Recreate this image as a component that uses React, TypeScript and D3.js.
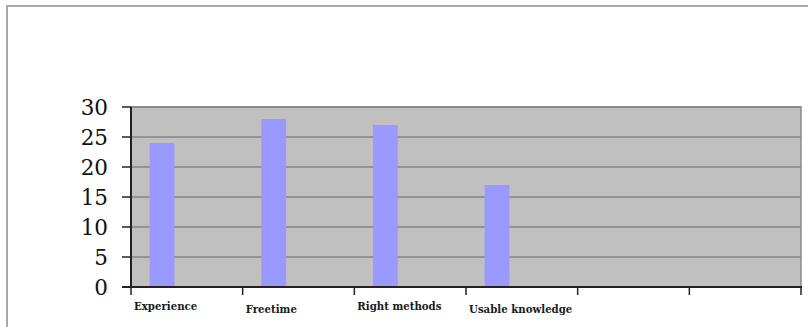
import React from "react";
import * as d3 from "d3";

const categories = ["Experience", "Freetime", "Right methods", "Usable knowledge", "", ""];
const values = [24, 28, 27, 17];
const yTicks = [0, 5, 10, 15, 20, 25, 30];
// clustered slots per category (only the first series carries data)
const seriesSlots = ["A", "B", "C"];

const W = 808;
const H = 327;
const plot = { left: 131, right: 801, top: 107, bottom: 287 };
const serif = "'DejaVu Serif', serif";

export default function App() {
  const x = d3
    .scaleBand<number>()
    .domain(categories.map((_, i) => i))
    .range([plot.left, plot.right])
    .padding(0);
  const slot = d3
    .scaleBand<string>()
    .domain(seriesSlots)
    .range([0, x.bandwidth()])
    .paddingInner(0)
    .paddingOuter(0.75);
  const y = d3.scaleLinear().domain([0, 30]).range([plot.bottom, plot.top]);

  const tickXs = categories.map((_, i) => x(i) as number).concat([plot.right]);

  return (
    <svg
      width={W}
      height={H}
      style={{ position: "absolute", left: 0, top: 0, background: "#fff" }}
    >
      {/* outer frame */}
      <rect x={7} y={6} width={W + 10} height={H + 10} fill="none" stroke="#8c8c8c" strokeWidth={1.5} />

      {/* plot area */}
      <rect
        x={plot.left}
        y={plot.top}
        width={plot.right - plot.left}
        height={plot.bottom - plot.top}
        fill="#c0c0c0"
        stroke="#8a8a8a"
        strokeWidth={1.5}
      />
      {yTicks.slice(1).map((t) => (
        <line key={t} x1={plot.left} x2={plot.right} y1={y(t)} y2={y(t)} stroke="#858585" strokeWidth={1.5} />
      ))}

      {/* bars */}
      {values.map((v, i) => (
        <rect
          key={i}
          x={(x(i) as number) + (slot("A") as number)}
          y={y(v)}
          width={slot.bandwidth()}
          height={y(0) - y(v)}
          fill="#9999ff"
        />
      ))}

      {/* y axis */}
      <line x1={plot.left} x2={plot.left} y1={plot.top} y2={plot.bottom} stroke="#222" strokeWidth={2} />
      {yTicks.map((t) => (
        <g key={t}>
          <line x1={plot.left - 9} x2={plot.left} y1={y(t)} y2={y(t)} stroke="#222" strokeWidth={1.5} />
          <text
            x={108}
            y={y(t)}
            dy="0.36em"
            textAnchor="end"
            style={{ fontFamily: serif, fontSize: 21.5 }}
            fill="#111"
          >
            {t}
          </text>
        </g>
      ))}

      {/* x axis */}
      <line x1={plot.left - 9} x2={plot.right + 1} y1={plot.bottom} y2={plot.bottom} stroke="#222" strokeWidth={2} />
      {tickXs.map((tx, i) => (
        <line key={i} x1={tx} x2={tx} y1={plot.bottom} y2={plot.bottom + 8} stroke="#222" strokeWidth={1.5} />
      ))}
      {categories.map((c, i) =>
        c ? (
          <text
            key={i}
            x={(x(i) as number) + 3}
            y={i % 2 === 1 ? 313 : 310}
            style={{ fontFamily: serif, fontSize: 10.2, fontWeight: "bold" }}
            fill="#1a1a1a"
          >
            {c}
          </text>
        ) : null
      )}
    </svg>
  );
}
